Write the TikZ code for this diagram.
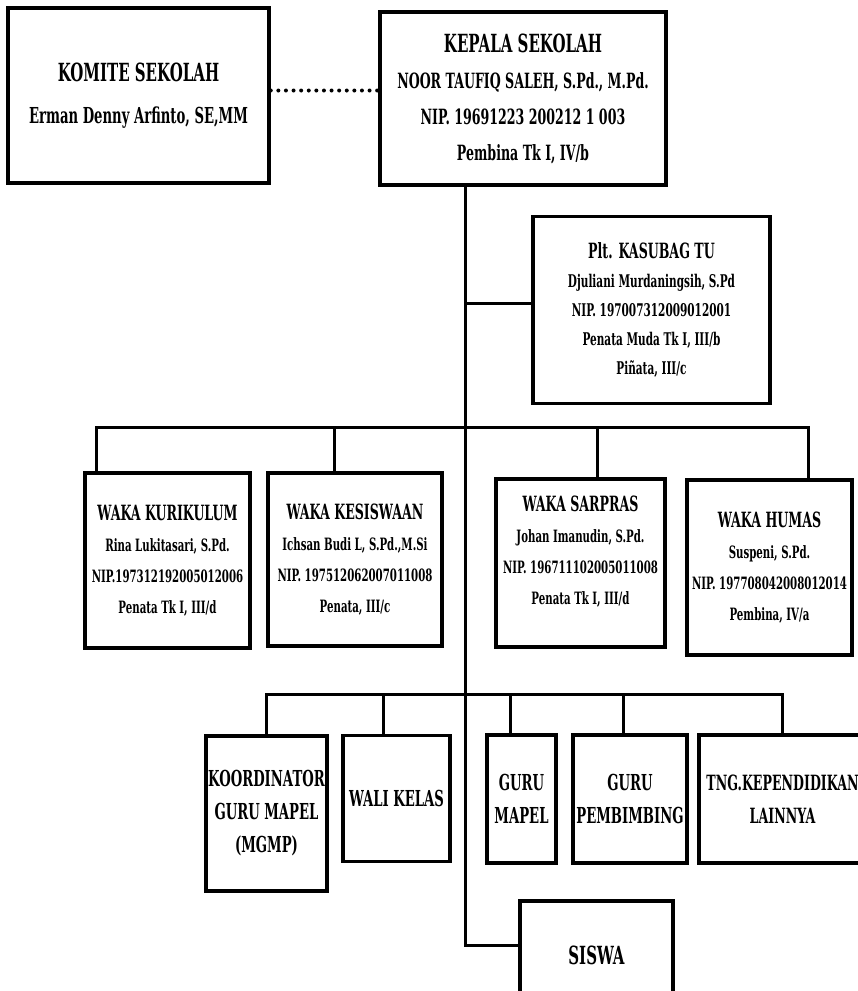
\documentclass[tikz,border=0pt]{standalone}
\usepackage{fontspec}
\setmainfont{DejaVu Serif}[FakeStretch=0.6]
\begin{document}
\begin{tikzpicture}[x=1pt,y=-1pt,
  kotak/.style={draw,line width=3.5pt,align=center,inner sep=1pt},
  garis/.style={line width=3pt},
  titik/.style={line width=4pt,line cap=round,dash pattern=on 0pt off 7.6pt}]

\def\judul#1#2{{\fontsize{#1}{#1}\selectfont #2}}
\def\teks#1#2{\bfseries\fontsize{#1}{#2}\selectfont}

\useasboundingbox (0,0) rectangle (858,991);
\clip (0,0) rectangle (858,991);

\node[kotak,minimum width=261pt,minimum height=175pt,font=\teks{22}{42}] (komite) at (138.5,95.5)
 {\judul{25}{KOMITE SEKOLAH}\\Erman Denny Arfinto, SE,MM};
\node[kotak,minimum width=286pt,minimum height=173pt,font=\teks{21}{36}] (kepala) at (523,98.5)
 {\judul{25}{KEPALA SEKOLAH}\\NOOR TAUFIQ SALEH, S.Pd., M.Pd.\\NIP. 19691223 200212 1 003\\Pembina Tk I, IV/b};
\node[kotak,minimum width=237pt,minimum height=187pt,font=\teks{17.5}{29}] (kasubag) at (651.5,310)
 {\judul{21}{Plt. KASUBAG TU}\\Djuliani Murdaningsih, S.Pd\\NIP. 197007312009012001\\Penata Muda Tk I, III/b\\Piñata, III/c};

\node[kotak,minimum width=165pt,minimum height=175pt,font=\teks{17}{31}] (kurikulum) at (167.5,560.5)
 {\judul{21}{WAKA KURIKULUM}\\Rina Lukitasari, S.Pd.\\NIP.197312192005012006\\Penata Tk I, III/d};
\node[kotak,minimum width=174pt,minimum height=173pt,font=\teks{17}{31}] (kesiswaan) at (355,559.5)
 {\judul{21}{WAKA KESISWAAN}\\Ichsan Budi L, S.Pd.,M.Si\\NIP. 197512062007011008\\Penata, III/c};
\node[kotak,minimum width=169pt,minimum height=168pt,font=\teks{17}{31}] (sarpras) at (580.5,563)
 {\judul{21}{WAKA SARPRAS}\\Johan Imanudin, S.Pd.\\NIP. 196711102005011008\\Penata Tk I, III/d\rule[-26pt]{0pt}{0pt}};
\node[kotak,minimum width=165pt,minimum height=175pt,font=\teks{17}{31}] (humas) at (769.5,567.5)
 {\judul{21}{WAKA HUMAS}\\Suspeni, S.Pd.\\NIP. 197708042008012014\\Pembina, IV/a};

\node[kotak,minimum width=121pt,minimum height=155pt,font=\teks{22}{33}] (mgmp) at (266.5,813.5)
 {KOORDINATOR\\GURU MAPEL\\(MGMP)};
\node[kotak,minimum width=107pt,minimum height=126pt,font=\teks{22}{33}] (walikelas) at (396.5,798.5)
 {WALI KELAS};
\node[kotak,minimum width=69pt,minimum height=128pt,font=\teks{22}{33}] (gurumapel) at (521.5,799)
 {GURU\\MAPEL};
\node[kotak,minimum width=114pt,minimum height=128pt,font=\teks{22}{33}] (bk) at (630,799)
 {GURU\\PEMBIMBING};
\node[kotak,minimum width=167pt,minimum height=128pt,font=\teks{21}{33}] (tendik) at (782.5,799)
 {TNG.KEPENDIDIKAN\\LAINNYA};
\node[kotak,minimum width=153pt,minimum height=108pt,font=\teks{25}{33}] (siswa) at (596.5,955)
 {SISWA};

\coordinate (bus1) at (465,427);
\coordinate (bus2) at (465,694);
\coordinate (cabang) at (465,945);

\draw[titik] ([yshift=5pt]komite.east) -- ([yshift=5pt]komite.east -| kepala.west);
\draw[garis] (kepala.south -| cabang) -- (cabang) -- (cabang -| siswa.west);
\draw[garis] ([yshift=7pt]kasubag.west) -- ([yshift=7pt]kasubag.west -| cabang);

\draw[garis] ([xshift=13pt]kurikulum.north west) |- (bus1) -| ([xshift=-45pt]humas.north east);
\draw[garis] ([xshift=-21pt]kesiswaan.north) -- ([xshift=-21pt]kesiswaan.north |- bus1);
\draw[garis] ([xshift=17pt]sarpras.north) -- ([xshift=17pt]sarpras.north |- bus1);

\draw[garis] (mgmp.north) |- (bus2) -| (tendik.north);
\draw[garis] ([xshift=-13pt]walikelas.north) -- ([xshift=-13pt]walikelas.north |- bus2);
\draw[garis] ([xshift=-11pt]gurumapel.north) -- ([xshift=-11pt]gurumapel.north |- bus2);
\draw[garis] ([xshift=-7pt]bk.north) -- ([xshift=-7pt]bk.north |- bus2);

\end{tikzpicture}
\end{document}
